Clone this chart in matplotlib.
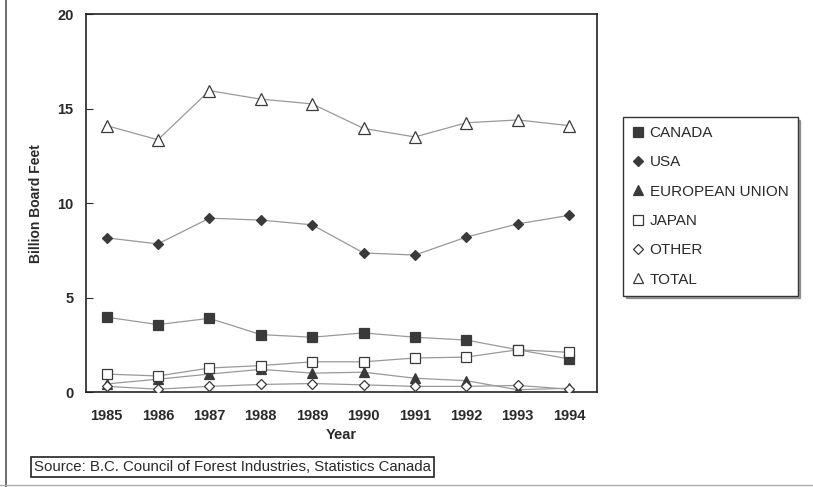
import numpy as np
import matplotlib.pyplot as plt
from matplotlib.lines import Line2D

plt.rcParams['font.family'] = ['Liberation Sans', 'DejaVu Sans']

years = [1985, 1986, 1987, 1988, 1989, 1990, 1991, 1992, 1993, 1994]
canada = [3.96, 3.57, 3.9, 3.04, 2.9, 3.13, 2.9, 2.75, 2.24, 1.75]
usa = [8.16, 7.84, 9.2, 9.1, 8.85, 7.36, 7.25, 8.2, 8.9, 9.35]
eu = [0.43, 0.68, 0.95, 1.2, 1.0, 1.05, 0.73, 0.6, 0.12, 0.2]
japan = [0.95, 0.85, 1.27, 1.4, 1.6, 1.6, 1.8, 1.85, 2.24, 2.1]
other = [0.3, 0.15, 0.3, 0.4, 0.45, 0.38, 0.3, 0.3, 0.35, 0.15]
total = [14.1, 13.35, 15.95, 15.5, 15.25, 13.95, 13.5, 14.25, 14.4, 14.1]

names = ['CANADA', 'USA', 'EUROPEAN UNION', 'JAPAN', 'OTHER', 'TOTAL']
series = [canada, usa, eu, japan, other, total]
markers = ['s', 'D', '^', 's', 'D', '^']
filled = [True, True, True, False, False, False]
sizes = [7, 5.5, 7, 7.5, 5.5, 8]

fig = plt.figure(figsize=(8.13, 4.87), dpi=100)
ax = fig.add_axes([0.1058, 0.195, 0.629, 0.776])

handles = []
for vals, m, f, s, n in zip(series, markers, filled, sizes, names):
    fc = '#3a3a3a' if f else 'white'
    ax.plot(years, vals, color='#999999', lw=0.9, marker=m, ms=s,
            mfc=fc, mec='#3a3a3a', mew=0.9, zorder=3)
    handles.append(Line2D([], [], ls='none', marker=m, ms=s - 0.5, mfc=fc,
                          mec='#3a3a3a', mew=0.9, label=n))

ax.set_xlim(1984.6, 1994.55)
ax.set_ylim(0, 20)
ax.set_xticks(years)
ax.set_yticks([0, 5, 10, 15, 20])
ax.tick_params(axis='both', direction='in', length=5, labelsize=10.5,
               colors='#2a2a2a')
ax.tick_params(axis='x', length=0, pad=12)
ax.tick_params(axis='y', pad=9)
for lab in ax.get_xticklabels() + ax.get_yticklabels():
    lab.set_fontweight('bold')
for sp in ax.spines.values():
    sp.set_color('#222222')
    sp.set_linewidth(1.2)
ax.set_xlabel('Year', fontsize=10.5, fontweight='bold', labelpad=4,
              color='#2a2a2a')
ax.set_ylabel('Billion Board Feet', fontsize=10, fontweight='bold', labelpad=10,
              color='#2a2a2a')

leg = fig.legend(handles=handles, loc='upper left',
                 bbox_to_anchor=(623 / 813, 1 - 117 / 487), borderaxespad=0,
                 frameon=True, fancybox=False, shadow=True,
                 handlelength=0.7, handletextpad=0.45, labelspacing=1.0,
                 borderpad=0.6, fontsize=11)
leg.get_frame().set_edgecolor('#333333')
leg.get_frame().set_linewidth(1.0)
for t in leg.get_texts():
    t.set_color('#2a2a2a')

fig.text(34 / 813, 1 - 467 / 487,
         'Source: B.C. Council of Forest Industries, Statistics Canada',
         fontsize=10.8, va='center', ha='left', color='#2a2a2a',
         bbox=dict(boxstyle='square,pad=0.2', fc='white', ec='#222222', lw=1.2))

# page edges
fig.add_artist(Line2D([6 / 813, 6 / 813], [0, 1], color='#555555', lw=1.2))
fig.add_artist(Line2D([0, 1], [2 / 487, 2 / 487], color='#aaaaaa', lw=1.0))

fig.savefig('out.png', dpi=100)
